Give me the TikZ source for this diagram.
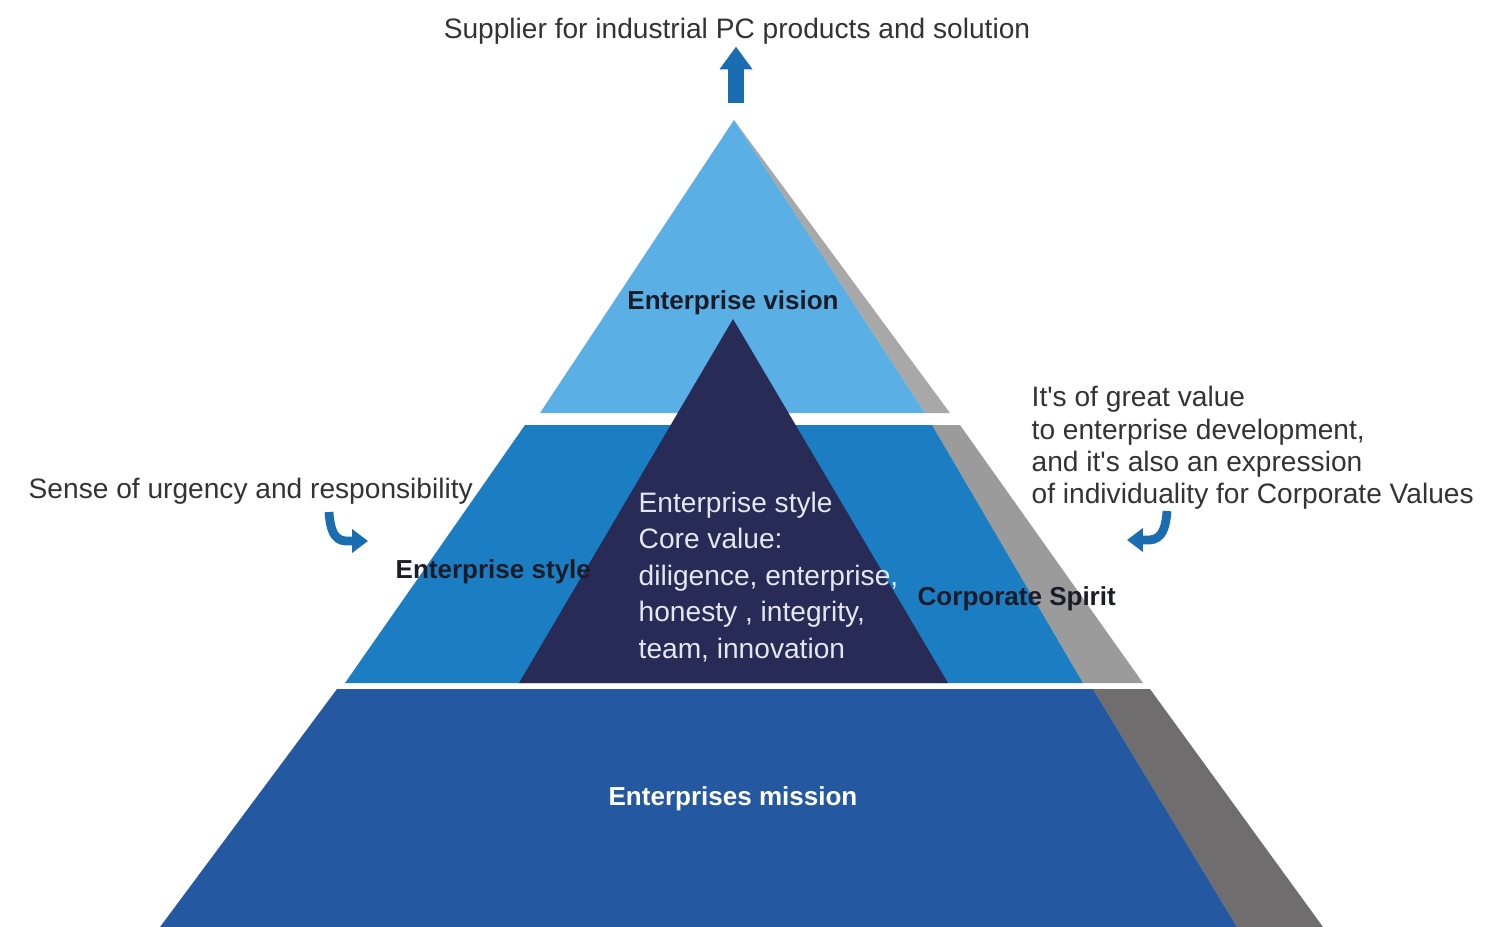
\documentclass[tikz,border=0pt]{standalone}
\usepackage{fontspec}
\setmainfont{Liberation Sans}
\usetikzlibrary{arrows.meta}
\definecolor{visionblue}{HTML}{5AB0E5}
\definecolor{styleblue}{HTML}{1B7EC2}
\definecolor{missionblue}{HTML}{2459A2}
\definecolor{corenavy}{HTML}{272B56}
\definecolor{sidegrey}{HTML}{A9A8A8}
\definecolor{sidegreymid}{HTML}{9C9B9B}
\definecolor{sidegreydark}{HTML}{6F6D6E}
\definecolor{arrowblue}{HTML}{1A6DB0}
\definecolor{notegrey}{HTML}{333333}
\definecolor{labeldark}{HTML}{1C1C28}
\definecolor{corewhite}{HTML}{E6E6EE}
\tikzset{
  note/.style={text=notegrey, font=\fontsize{8}{9.2}\selectfont, inner sep=0pt},
  tierlabel/.style={text=labeldark, font=\bfseries\fontsize{7.4}{9}\selectfont, inner sep=0pt},
  bendarrow/.style={draw=arrowblue, line width=2.5pt, -{Triangle[length=4.5pt,width=6.5pt]}},
}
\begin{document}
\begin{tikzpicture}[x=0.01cm, y=-0.01cm]
\useasboundingbox (0,0) rectangle (1508,927);
% side faces
\fill[sidegrey] (734,120) -- (950,413) -- (925,413) -- cycle;
\fill[sidegreymid] (932,425) -- (960,425) -- (1143,683) -- (1083,683) -- cycle;
\fill[sidegreydark] (1093,689) -- (1150,689) -- (1323,927) -- (1237,927) -- cycle;
% tiers
\fill[visionblue] (734,120) -- (925,413) -- (540,413) -- cycle;
\fill[styleblue] (525,425) -- (932,425) -- (1083,683) -- (345,683) -- cycle;
\fill[missionblue] (337,689) -- (1093,689) -- (1237,927) -- (160,927) -- cycle;
% core
\fill[corenavy] (733,319) -- (948,683) -- (519,683) -- cycle;

\node[tierlabel] (vision) at (733,303) {Enterprise vision};
\node[tierlabel, anchor=west] (style) at (395,572) {Enterprise style};
\node[tierlabel, anchor=west] (spirit) at (917,599) {Corporate Spirit};
\node[tierlabel, text=white] (mission) at (733,799) {Enterprises mission};
\node[note, text=corewhite, align=left, anchor=west, font=\fontsize{8}{10.4}\selectfont] (core) at (638,577)
  {Enterprise style\\Core value:\\diligence, enterprise,\\honesty , integrity,\\team, innovation};

\node[note] (supplier) at (737,31) {Supplier for industrial PC products and solution};
\node[note, anchor=west] (urgency) at (28,491) {Sense of urgency and responsibility};
\node[note, anchor=west, align=left] (value) at (1031,448)
  {It\textquotesingle s of great value\\to enterprise development,\\and it\textquotesingle s also an expression\\of individuality for Corporate Values};

% arrows
\coordinate (upbase) at (736,103);
\draw[arrowblue, line width=4.3pt, -{Triangle[length=6.5pt,width=9pt]}, shorten >=0.5pt] (upbase) -- (upbase |- supplier.south);
\coordinate (urgtail) at (329,512);
\coordinate (urgtip) at (368,541);
\draw[bendarrow] (urgtail) .. controls +(2,32) and +(-25,0) .. (urgtip);
\coordinate (valtail) at (1167,511);
\coordinate (valtip) at (1127,540);
\draw[bendarrow] (valtail) .. controls +(-2,32) and +(25,0) .. (valtip);
\end{tikzpicture}
\end{document}
